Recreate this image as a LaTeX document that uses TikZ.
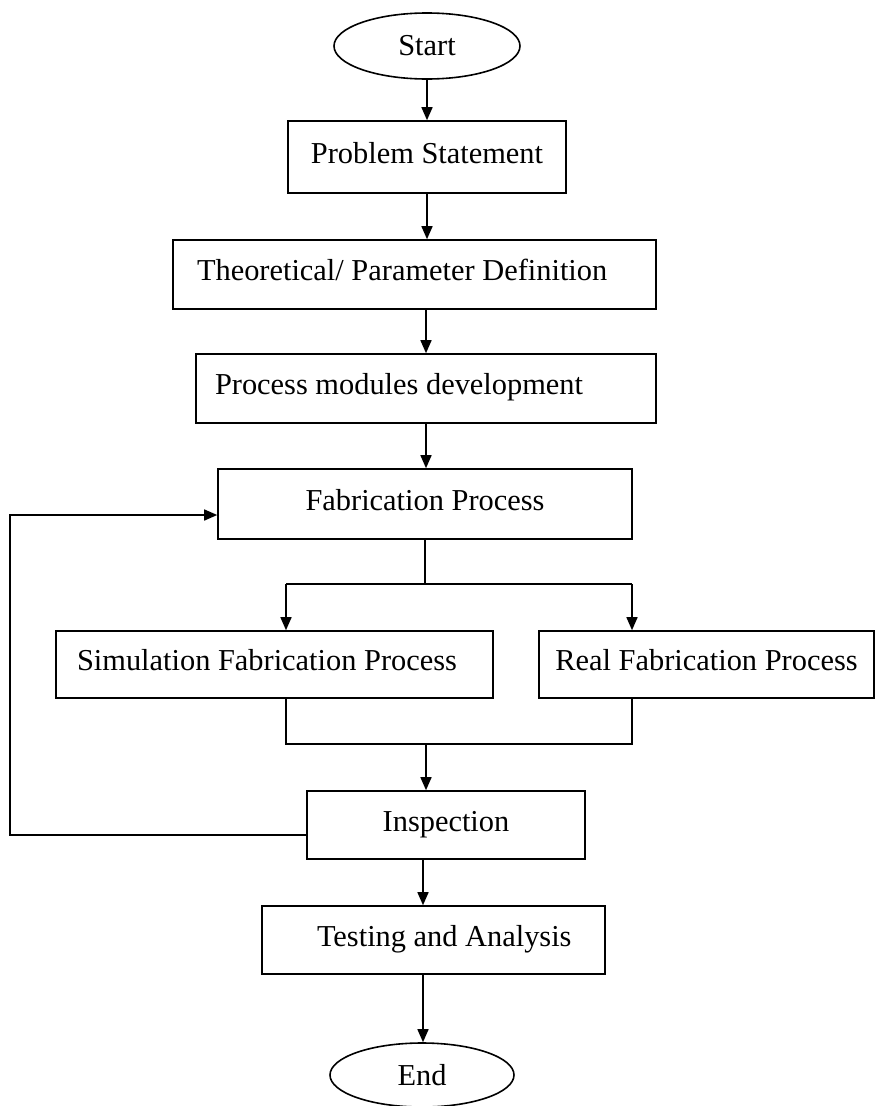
\documentclass[tikz,border=0pt]{standalone}
\usepackage{fontspec}
\setmainfont{Liberation Serif}
\usetikzlibrary{arrows.meta,shapes.geometric}
\begin{document}
\begin{tikzpicture}[x=1pt,y=-1pt,
  every node/.style={font=\fontsize{30.4}{36}\selectfont},
  box/.style={draw, rectangle, line width=1.6pt, inner ysep=0pt, inner xsep=0pt, text height=21pt, text depth=9pt},
  oval/.style={draw, ellipse, line width=1.6pt, inner sep=0pt},
  conn/.style={line width=1.5pt},
  arr/.style={conn, -{Triangle[length=13pt,width=11pt]}}]
\useasboundingbox (0,0) rectangle (876,1106);

\node[oval, minimum width=186, minimum height=66] (start) at (427,46) {Start};
\node[box, minimum width=278, minimum height=72] (prob) at (427,157) {Problem Statement};
\node[box, minimum width=483, minimum height=69, inner xsep=24pt] (theo) at (414.5,274.5) {\makebox[435pt][l]{Theoretical/ Parameter Definition}};
\node[box, minimum width=460, minimum height=69, inner xsep=19pt] (proc) at (426,388.5) {\makebox[422pt][l]{Process modules development}};
\node[box, minimum width=414, minimum height=70] (fab) at (425,504) {Fabrication Process};
\node[box, minimum width=437, minimum height=67, inner xsep=21pt] (sim) at (274.5,664.5) {\makebox[395pt][l]{Simulation Fabrication Process}};
\node[box, minimum width=335, minimum height=67] (real) at (706.5,664.5) {Real Fabrication Process};
\node[box, minimum width=278, minimum height=68] (insp) at (446,825) {Inspection};
\node[box, minimum width=343, minimum height=68, inner xsep=55pt] (test) at (433.5,940) {\makebox[233pt][l]{Testing and Analysis}};
\node[oval, minimum width=184, minimum height=64] (endn) at (422,1075) {End};

\draw[arr] (start) -- (prob);
\draw[arr] (prob.south) -- (prob.south |- theo.north);
\draw[arr] (proc.north |- theo.south) -- (proc.north);
\draw[arr] (proc.south) -- (proc.south |- fab.north);

\coordinate (brL) at (286,584);
\coordinate (brR) at (632,584);
\draw[conn] (fab.south) -- (fab.south |- brL);
\draw[conn] (brL) -- (brR);
\draw[arr] (brL) -- (brL |- sim.north);
\draw[arr] (brR) -- (brR |- real.north);

\coordinate (mL) at (286,744);
\coordinate (mR) at (632,744);
\coordinate (mC) at (426,744);
\draw[conn] (mL |- sim.south) -- (mL) -- (mR) -- (mR |- real.south);
\draw[arr] (mC) -- (mC |- insp.north);

\coordinate (fb) at (10,515);
\draw[arr] ([yshift=-10pt]insp.west) -| (fb) -- (fb -| fab.west);

\coordinate (cT) at (423,0);
\draw[arr] (cT |- insp.south) -- (cT |- test.north);
\draw[arr] (cT |- test.south) -- (cT |- endn.north);
\end{tikzpicture}
\end{document}
